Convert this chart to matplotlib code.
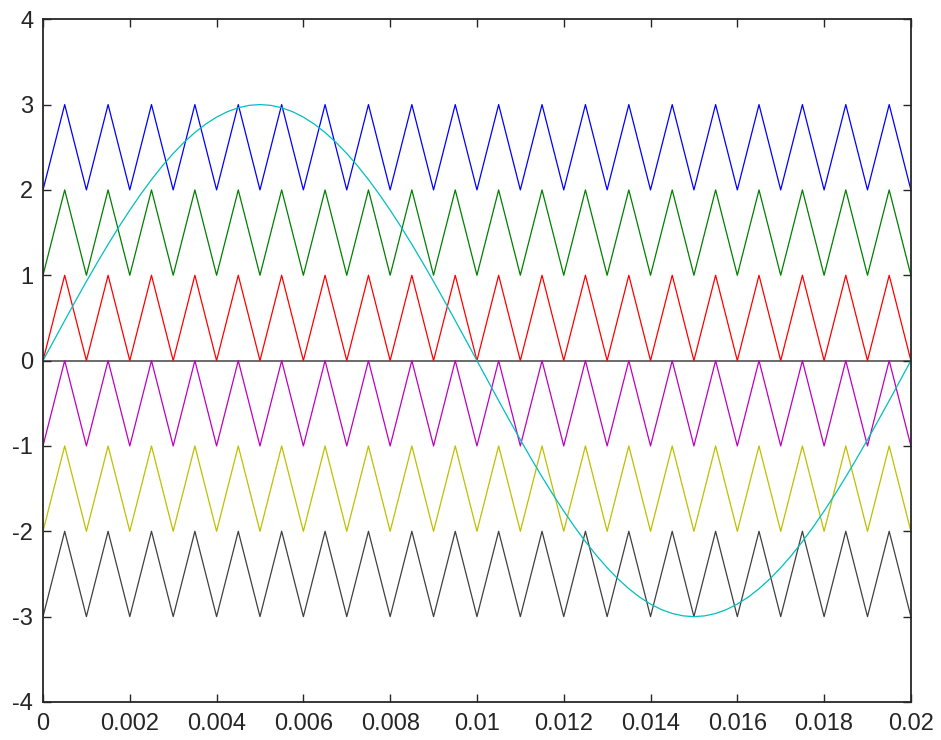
import matplotlib.pyplot as plt

# Vertex times of the triangular carriers (s)
carrier_t = [0.0, 0.0005, 0.001, 0.0015, 0.002, 0.0025, 0.003, 0.0035, 0.004, 0.0045,
             0.005, 0.0055, 0.006, 0.0065, 0.007, 0.0075, 0.008, 0.0085, 0.009, 0.0095,
             0.01, 0.0105, 0.011, 0.0115, 0.012, 0.0125, 0.013, 0.0135, 0.014, 0.0145,
             0.015, 0.0155, 0.016, 0.0165, 0.017, 0.0175, 0.018, 0.0185, 0.019, 0.0195,
             0.02]
# one carrier band: low/high vertices (unit height)
carrier_shape = [0, 1, 0, 1, 0, 1, 0, 1, 0, 1,
                 0, 1, 0, 1, 0, 1, 0, 1, 0, 1,
                 0, 1, 0, 1, 0, 1, 0, 1, 0, 1,
                 0, 1, 0, 1, 0, 1, 0, 1, 0, 1,
                 0]
band_bottoms = [2, 1, 0, -1, -2, -3]
band_colors = ["#0000ff", "#007f00", "#ff0000", "#bf00bf", "#bfbf00", "#404040"]

# reference sine, read every 0.25 ms
sine_t = [0.0, 0.00025, 0.0005, 0.00075, 0.001, 0.00125, 0.0015, 0.00175,
          0.002, 0.00225, 0.0025, 0.00275, 0.003, 0.00325, 0.0035, 0.00375,
          0.004, 0.00425, 0.0045, 0.00475, 0.005, 0.00525, 0.0055, 0.00575,
          0.006, 0.00625, 0.0065, 0.00675, 0.007, 0.00725, 0.0075, 0.00775,
          0.008, 0.00825, 0.0085, 0.00875, 0.009, 0.00925, 0.0095, 0.00975,
          0.01, 0.01025, 0.0105, 0.01075, 0.011, 0.01125, 0.0115, 0.01175,
          0.012, 0.01225, 0.0125, 0.01275, 0.013, 0.01325, 0.0135, 0.01375,
          0.014, 0.01425, 0.0145, 0.01475, 0.015, 0.01525, 0.0155, 0.01575,
          0.016, 0.01625, 0.0165, 0.01675, 0.017, 0.01725, 0.0175, 0.01775,
          0.018, 0.01825, 0.0185, 0.01875, 0.019, 0.01925, 0.0195, 0.01975,
          0.02]
sine_v = [0.0, 0.235, 0.469, 0.700, 0.927, 1.148, 1.362, 1.568, 1.763, 1.948,
          2.121, 2.281, 2.427, 2.558, 2.673, 2.772, 2.853, 2.917, 2.963, 2.991,
          3.0, 2.991, 2.963, 2.917, 2.853, 2.772, 2.673, 2.558, 2.427, 2.281,
          2.121, 1.948, 1.763, 1.568, 1.362, 1.148, 0.927, 0.700, 0.469, 0.235,
          0.0, -0.235, -0.469, -0.700, -0.927, -1.148, -1.362, -1.568, -1.763, -1.948,
          -2.121, -2.281, -2.427, -2.558, -2.673, -2.772, -2.853, -2.917, -2.963, -2.991,
          -3.0, -2.991, -2.963, -2.917, -2.853, -2.772, -2.673, -2.558, -2.427, -2.281,
          -2.121, -1.948, -1.763, -1.568, -1.362, -1.148, -0.927, -0.700, -0.469, -0.235,
          0.0]

x_ticks = [0, 0.002, 0.004, 0.006, 0.008, 0.01, 0.012, 0.014, 0.016, 0.018, 0.02]
x_labels = ["0", "0.002", "0.004", "0.006", "0.008", "0.01", "0.012", "0.014",
            "0.016", "0.018", "0.02"]
y_ticks = [-4, -3, -2, -1, 0, 1, 2, 3, 4]

plt.rcParams["font.family"] = ["Liberation Sans", "DejaVu Sans"]
plt.rcParams["axes.unicode_minus"] = False

fig = plt.figure(figsize=(9.41, 7.40), dpi=100)
ax = fig.add_axes([0.0457, 0.0514, 0.9223, 0.9226])

for bottom, color in zip(band_bottoms, band_colors):
    ax.plot(carrier_t, [bottom + s for s in carrier_shape], color=color, lw=0.9)

ax.axhline(0, color="#6a6a6a", lw=1.4, zorder=1)
ax.plot(sine_t, sine_v, color="#00bfbf", lw=0.9)

ax.set_xlim(0, 0.02)
ax.set_ylim(-4, 4)
ax.set_xticks(x_ticks)
ax.set_xticklabels(x_labels)
ax.set_yticks(y_ticks)
ax.tick_params(direction="in", length=6, width=1, top=True, right=True,
               labelsize=17, colors="#262626")
ax.tick_params(axis="x", pad=8)
ax.tick_params(axis="y", pad=7)
for sp in ax.spines.values():
    sp.set_linewidth(1.3)
    sp.set_color("#262626")

fig.savefig("out.png", dpi=100)
